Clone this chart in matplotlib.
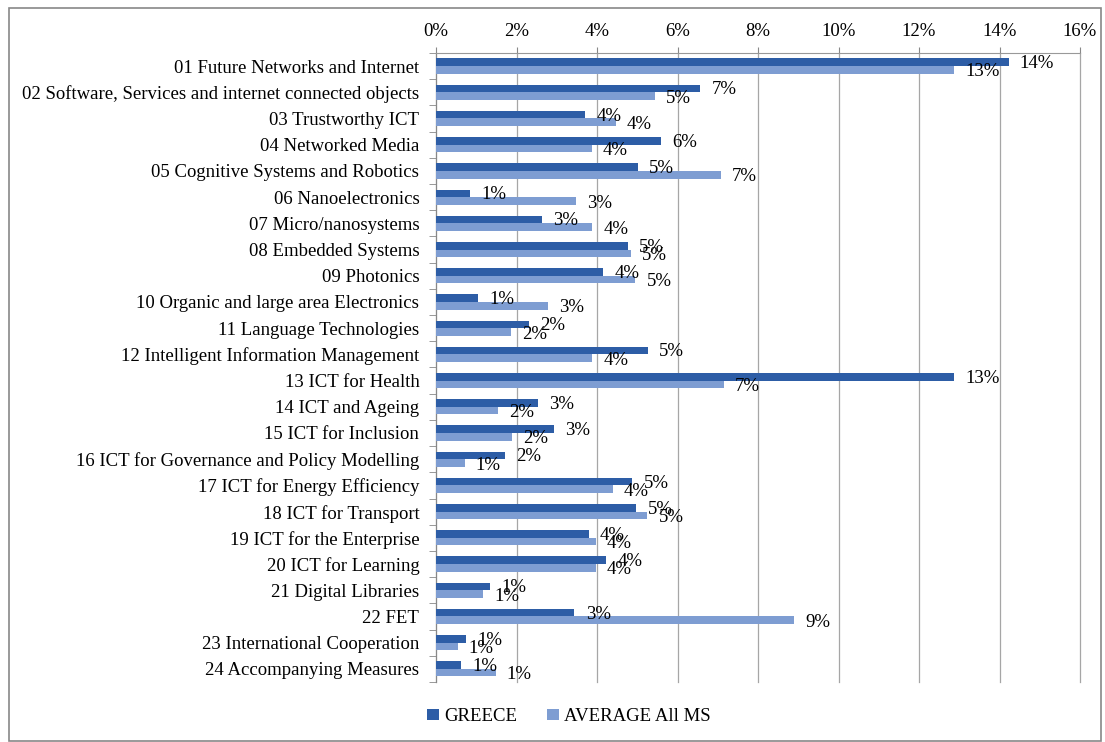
import numpy as np
import matplotlib.pyplot as plt
from matplotlib.patches import Rectangle

# Categories and shares (% of total funding)
categories = [
    "01 Future Networks and Internet",
    "02 Software, Services and internet connected objects",
    "03 Trustworthy ICT",
    "04 Networked Media",
    "05 Cognitive Systems and Robotics",
    "06 Nanoelectronics",
    "07 Micro/nanosystems",
    "08 Embedded Systems",
    "09 Photonics",
    "10 Organic and large area Electronics",
    "11 Language Technologies",
    "12 Intelligent Information Management",
    "13 ICT for Health",
    "14 ICT and Ageing",
    "15 ICT for Inclusion",
    "16 ICT for Governance and Policy Modelling",
    "17 ICT for Energy Efficiency",
    "18 ICT for Transport",
    "19 ICT for the Enterprise",
    "20 ICT for Learning",
    "21 Digital Libraries",
    "22 FET",
    "23 International Cooperation",
    "24 Accompanying Measures",
]
greece = [14.23, 6.57, 3.71, 5.60, 5.02, 0.85, 2.63, 4.77, 4.16, 1.05, 2.31, 5.26,
          12.87, 2.54, 2.93, 1.72, 4.88, 4.98, 3.80, 4.23, 1.35, 3.44, 0.74, 0.63]
average = [12.87, 5.43, 4.46, 3.87, 7.07, 3.47, 3.88, 4.85, 4.95, 2.78, 1.87, 3.88,
           7.15, 1.53, 1.88, 0.71, 4.39, 5.25, 3.97, 3.97, 1.17, 8.89, 0.54, 1.48]
xticks = [0, 2, 4, 6, 8, 10, 12, 14, 16]

plt.rcParams['font.family'] = ['Liberation Serif', 'DejaVu Serif']

fig = plt.figure(figsize=(11.05, 7.42), dpi=100)
ax = fig.add_axes([0.3946, 0.0809, 0.5828, 0.8477])

y = np.arange(len(categories))
h = 0.29
c_gr = '#2D5DA6'
c_av = '#7E9DD2'
ax.barh(y - h / 2, greece, height=h, color=c_gr, label='GREECE', zorder=3)
ax.barh(y + h / 2, average, height=h, color=c_av, label='AVERAGE All MS', zorder=3)

fs = 13.5
for i, (g, a) in enumerate(zip(greece, average)):
    ax.annotate(f"{g:.0f}%", (g, y[i] - h / 2), xytext=(8, -1), textcoords='offset points',
                va='center', ha='left', fontsize=fs, zorder=4)
    ax.annotate(f"{a:.0f}%", (a, y[i] + h / 2), xytext=(8, -1.5), textcoords='offset points',
                va='center', ha='left', fontsize=fs, zorder=4)

ax.set_ylim(len(categories) - 0.5, -0.5)
ax.set_xlim(0, 16)
ax.set_xticks(xticks)
ax.set_xticklabels([f"{t}%" for t in xticks], fontsize=fs)
ax.xaxis.tick_top()
ax.tick_params(axis='x', length=4, color='#888888', pad=5)
ax.set_yticks(y)
ax.set_yticklabels(categories, fontsize=fs)
ax.set_yticks(np.arange(len(categories) + 1) - 0.5, minor=True)
ax.tick_params(axis='y', which='major', length=0, pad=12)
ax.tick_params(axis='y', which='minor', length=5, color='#888888')
ax.grid(axis='x', color='#A6A6A6', linewidth=0.9, zorder=0, clip_on=False)
for s in ['right', 'bottom']:
    ax.spines[s].set_visible(False)
ax.spines['left'].set_color('#888888')
ax.spines['top'].set_color('#999999')

fig.legend(loc='lower center', bbox_to_anchor=(0.515, 0.0), ncol=2, frameon=False,
           fontsize=fs, handlelength=0.6, handleheight=0.6, handletextpad=0.3,
           columnspacing=1.6)

fig.patches.append(Rectangle((0.008, 0.002), 0.988, 0.987, transform=fig.transFigure,
                             fill=False, edgecolor='#888888', linewidth=1.2))

fig.savefig('out.png', dpi=100)
